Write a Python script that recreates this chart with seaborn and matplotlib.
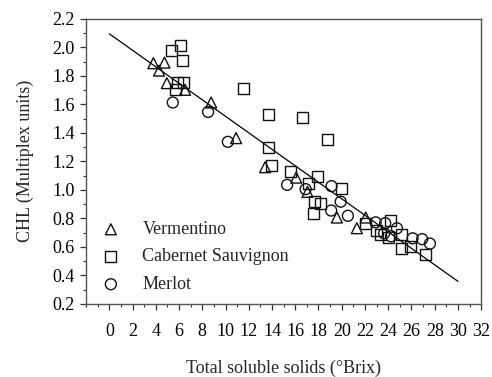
import numpy as np
import pandas as pd
import matplotlib
matplotlib.use("Agg")
import matplotlib.pyplot as plt
import seaborn as sns
from matplotlib.ticker import MultipleLocator

# ---- data ----
verm_x = [3.79, 4.74, 4.28, 4.95, 6.52, 8.76, 10.91, 13.41, 16.08, 17.05, 19.58, 21.30, 22.06]
verm_y = [1.889, 1.893, 1.837, 1.749, 1.702, 1.613, 1.363, 1.159, 1.086, 0.986, 0.806, 0.731, 0.806]

cab_x = [5.32, 6.09, 6.32, 5.83, 6.38, 5.70, 11.54, 13.69, 16.65, 18.75, 13.71, 13.97, 15.56,
         17.94, 17.14, 19.98, 17.65, 18.21, 17.54, 22.02, 24.17, 23.01, 23.31, 24.02, 25.12,
         25.18, 25.93, 27.18]
cab_y = [1.978, 2.011, 1.905, 1.753, 1.753, 1.702, 1.709, 1.526, 1.507, 1.356, 1.300, 1.172, 1.131,
         1.095, 1.047, 1.011, 0.918, 0.904, 0.833, 0.761, 0.785, 0.714, 0.684, 0.665, 0.684,
         0.591, 0.602, 0.547]

mer_x = [5.46, 8.50, 10.20, 15.30, 16.89, 19.12, 19.91, 19.09, 20.53, 22.92, 23.74, 24.75,
         23.65, 24.25, 26.10, 26.92, 27.59]
mer_y = [1.613, 1.547, 1.337, 1.035, 1.005, 1.026, 0.917, 0.855, 0.818, 0.772, 0.766, 0.730,
         0.695, 0.674, 0.660, 0.654, 0.623]

fit_intercept = 2.095
fit_slope = -0.0579
fit_range = [0, 30]

varieties = ["Vermentino", "Cabernet Sauvignon", "Merlot"]
marker_map = {"Vermentino": "^", "Cabernet Sauvignon": "s", "Merlot": "o"}

df = pd.concat([
    pd.DataFrame({"brix": verm_x, "chl": verm_y, "variety": "Vermentino"}),
    pd.DataFrame({"brix": cab_x, "chl": cab_y, "variety": "Cabernet Sauvignon"}),
    pd.DataFrame({"brix": mer_x, "chl": mer_y, "variety": "Merlot"}),
], ignore_index=True)

sns.set_style("ticks")
plt.rcParams["font.family"] = ["Liberation Serif", "DejaVu Serif"]

fig = plt.figure(figsize=(4.92, 3.77), dpi=100)
ax = fig.add_axes([0.175, 0.194, 0.803, 0.756])

fx = np.array(fit_range, dtype=float)
sns.lineplot(x=fx, y=fit_intercept + fit_slope * fx, color="black", linewidth=0.9, ax=ax)

for v in varieties:
    sub = df[df["variety"] == v]
    sns.scatterplot(x=sub["brix"], y=sub["chl"], marker=marker_map[v], s=62,
                    facecolor="none", edgecolor="#111111", linewidth=1.0,
                    label=v, ax=ax, zorder=3)

ax.set_xlim(-2, 32)
ax.set_ylim(0.2, 2.2)
ax.set_xticks(np.arange(0, 33, 2))
ax.xaxis.set_minor_locator(MultipleLocator(1))
ax.set_yticks(np.arange(0.2, 2.21, 0.2))
ax.set_yticklabels([f"{t:.1f}" for t in np.arange(0.2, 2.21, 0.2)])
ax.yaxis.set_minor_locator(MultipleLocator(0.1))

for s in ax.spines.values():
    s.set_visible(True)
    s.set_color("#555555")
    s.set_linewidth(1.0)

ax.tick_params(axis="both", which="major", direction="out", length=4, width=0.9,
               color="#333333", labelsize=13, labelcolor="black")
ax.tick_params(axis="both", which="minor", direction="out", length=2.5, width=0.8, color="#333333")
ax.tick_params(axis="x", which="major", pad=10)
ax.tick_params(axis="y", which="major", pad=4)

ax.set_xlabel("Total soluble solids (°Brix)", fontsize=13, labelpad=14)
ax.set_ylabel("CHL (Multiplex units)", fontsize=13, labelpad=13)

leg = ax.legend(loc="upper left", bbox_to_anchor=(-0.015, 0.335), frameon=False, fontsize=13,
                handletextpad=0.75, labelspacing=0.58, borderaxespad=0.3, markerscale=1.0)

fig.savefig("out.png", dpi=100)
